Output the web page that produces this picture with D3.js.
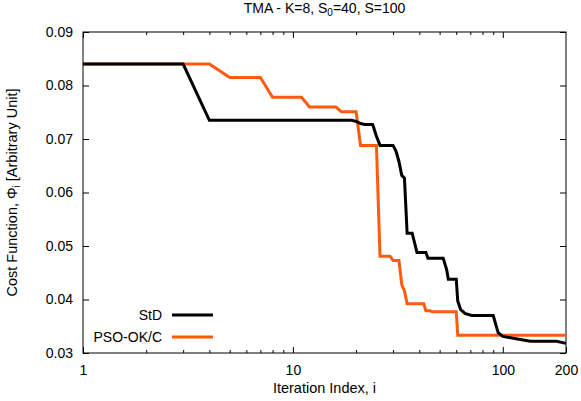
<!DOCTYPE html>
<html>
<head>
<meta charset="utf-8">
<script src="https://cdn.jsdelivr.net/npm/d3@7"></script>
<style>
    body { margin: 0; background: #fff; }
    svg text { font-family: "Liberation Sans", Arial, sans-serif; fill: #000; }
</style>
</head>
<body>
<svg id="chart" width="581" height="401"></svg>
<script>
// breakpoints of each curve (iteration index, cost value)
const stdIter = [1, 3, 4, 19, 20, 21, 22, 24, 25, 26, 30, 31, 32, 33, 34, 35, 37, 39, 43, 44, 52, 54, 55, 60, 61, 63, 66, 71, 90, 95, 100, 114, 135, 180, 200];
const stdCost = [0.0840, 0.0840, 0.0735, 0.0735, 0.0733, 0.0729, 0.0727, 0.0727, 0.0705, 0.0688, 0.0688, 0.0677, 0.0658, 0.0632, 0.0627, 0.0524, 0.0524, 0.0488, 0.0488, 0.0477, 0.0477, 0.0456, 0.0438, 0.0438, 0.0397, 0.0381, 0.0374, 0.0370, 0.0370, 0.0338, 0.0331, 0.0327, 0.0322, 0.0322, 0.0318];

const psoIter = [1, 4, 5, 7, 8, 11, 12, 16, 17, 20, 21, 25, 26, 29, 30, 32, 33, 34, 35, 42, 43, 45, 46, 60, 61, 200];
const psoCost = [0.0840, 0.0840, 0.0815, 0.0815, 0.0778, 0.0778, 0.0760, 0.0760, 0.0751, 0.0751, 0.0688, 0.0688, 0.0481, 0.0481, 0.0473, 0.0473, 0.0428, 0.0416, 0.0392, 0.0392, 0.0379, 0.0379, 0.0377, 0.0377, 0.0333, 0.0333];

const seriesNames = ["StD", "PSO-OK/C"];
const seriesColors = ["#000000", "#ff5a0f"];

const xMajor = [1, 10, 100, 200];
const xMinor = [2, 3, 4, 5, 6, 7, 8, 9, 20, 30, 40, 50, 60, 70, 80, 90];
const yTicks = [0.03, 0.04, 0.05, 0.06, 0.07, 0.08, 0.09];

const margin = {left: 83, right: 15, top: 32, bottom: 48};
const width = 581, height = 401;

const svg = d3.select("#chart");

const x = d3.scaleLog().domain([1, 200]).range([margin.left, width - margin.right]);
const y = d3.scaleLinear().domain([0.03, 0.09]).range([height - margin.bottom, margin.top]);

const plotW = width - margin.left - margin.right;
const plotH = height - margin.top - margin.bottom;

// bottom axis with labels
svg.append("g")
    .attr("transform", `translate(0,${y(0.03)})`)
    .call(d3.axisBottom(x).tickValues(xMajor).tickFormat(d3.format("d")).tickSize(-6).tickPadding(12))
    .call(g => g.select(".domain").remove())
    .call(g => g.selectAll("text").style("font-size", "14px"));
svg.append("g")
    .attr("transform", `translate(0,${y(0.03)})`)
    .call(d3.axisBottom(x).tickValues(xMinor).tickFormat("").tickSize(-3))
    .call(g => g.select(".domain").remove());

// top axis (ticks only)
svg.append("g")
    .attr("transform", `translate(0,${y(0.09)})`)
    .call(d3.axisTop(x).tickValues([1, 10, 100]).tickFormat("").tickSize(-6))
    .call(g => g.select(".domain").remove());
svg.append("g")
    .attr("transform", `translate(0,${y(0.09)})`)
    .call(d3.axisTop(x).tickValues(xMinor).tickFormat("").tickSize(-3))
    .call(g => g.select(".domain").remove());

// left axis
svg.append("g")
    .attr("transform", `translate(${x(1)},0)`)
    .call(d3.axisLeft(y).tickValues(yTicks).tickFormat(d3.format(".2f")).tickSize(-6).tickPadding(10))
    .call(g => g.select(".domain").remove())
    .call(g => g.selectAll("text").style("font-size", "14px"));

// right axis (ticks only)
svg.append("g")
    .attr("transform", `translate(${x(200)},0)`)
    .call(d3.axisRight(y).tickValues(yTicks).tickFormat("").tickSize(-6))
    .call(g => g.select(".domain").remove());

// frame
svg.append("rect")
    .attr("x", margin.left)
    .attr("y", margin.top)
    .attr("width", plotW)
    .attr("height", plotH)
    .attr("fill", "none")
    .attr("stroke", "#000")
    .attr("stroke-width", 1);

svg.selectAll(".tick line").attr("stroke", "#000");

// curves
const line = d3.line()
    .x(d => x(d[0]))
    .y(d => y(d[1]));

const series = [
    d3.zip(stdIter, stdCost),
    d3.zip(psoIter, psoCost)
];

// orange drawn first, black on top
svg.append("g")
    .selectAll("path")
    .data([1, 0])
    .enter()
    .append("path")
    .attr("d", i => line(series[i]))
    .attr("fill", "none")
    .attr("stroke", i => seriesColors[i])
    .attr("stroke-width", 3)
    .attr("stroke-linejoin", "miter");

// legend
const legend = svg.append("g");
seriesNames.forEach((name, i) => {
    const ly = 315 + i * 22;
    legend.append("text")
        .attr("x", 162)
        .attr("y", ly)
        .attr("dy", "0.35em")
        .attr("text-anchor", "end")
        .style("font-size", "14px")
        .text(name);
    legend.append("line")
        .attr("x1", 172)
        .attr("x2", 213)
        .attr("y1", ly)
        .attr("y2", ly)
        .attr("stroke", seriesColors[i])
        .attr("stroke-width", 3);
});

// title
const title = svg.append("text")
    .attr("x", (margin.left + width - margin.right) / 2)
    .attr("y", 13)
    .attr("text-anchor", "middle")
    .style("font-size", "14px");
title.append("tspan").text("TMA - K=8, S");
title.append("tspan").attr("dy", 3).style("font-size", "10px").text("0");
title.append("tspan").attr("dy", -3).text("=40, S=100");

// x label
svg.append("text")
    .attr("x", (margin.left + width - margin.right) / 2)
    .attr("y", 393)
    .attr("text-anchor", "middle")
    .style("font-size", "14.5px")
    .text("Iteration Index, i");

// y label
const ylab = svg.append("text")
    .attr("transform", `translate(17,${(margin.top + height - margin.bottom) / 2}) rotate(-90)`)
    .attr("text-anchor", "middle")
    .style("font-size", "14.5px");
ylab.append("tspan").text("Cost Function, \u03A6");
ylab.append("tspan").attr("dy", 3).style("font-size", "10px").text("i");
ylab.append("tspan").attr("dy", -3).text(" [Arbitrary Unit]");
</script>
</body>
</html>
